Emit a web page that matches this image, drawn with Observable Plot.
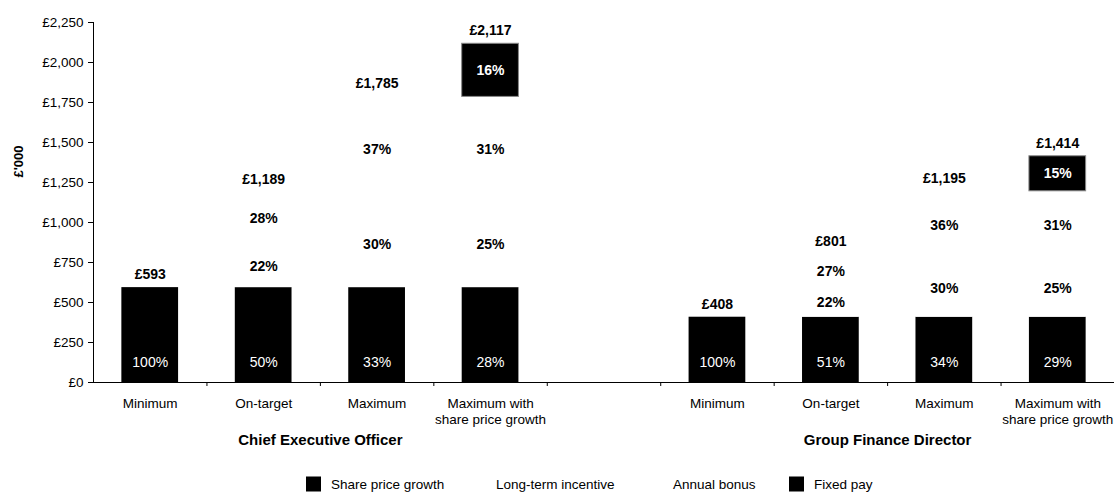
<!DOCTYPE html>
<html>
<head>
<meta charset="utf-8">
<script src="https://cdn.jsdelivr.net/npm/d3@7"></script>
<script src="https://cdn.jsdelivr.net/npm/@observablehq/plot@0.6"></script>
<style>
  html, body { margin: 0; padding: 0; background: #fff; }
  body { font-family: "Liberation Sans", Arial, sans-serif; width: 1114px; }
  #legend { position: relative; height: 33px; font-size: 13.5px; color: #000; }
  #legend .item { position: absolute; top: 24px; display: flex; align-items: center; white-space: nowrap; }
  #legend .sw { width: 15px; height: 15px; margin-right: 10px; box-sizing: border-box; }
</style>
</head>
<body>
<div id="chart"></div>
<div id="legend"></div>
<script>
// ---- data ----
const roles = ["Chief Executive Officer", "Group Finance Director"];
const categories = ["Minimum", "On-target", "Maximum", "Maximum with\nshare price growth"];
const components = ["Fixed pay", "Annual bonus", "Long-term incentive", "Share price growth"];
const componentFill = ["#000000", "#ffffff", "#ffffff", "#000000"];
const legendOrder = ["Share price growth", "Long-term incentive", "Annual bonus", "Fixed pay"];

// values in £'000, per category
const ceoFixed = [593, 593, 593, 593];
const ceoBonus = [0, 267, 535, 535];
const ceoLTI   = [0, 329, 657, 657];
const ceoSPG   = [0, 0, 0, 332];
const ceoTotals = [593, 1189, 1785, 2117];
const ceoFixedPct = ["100%", "50%", "33%", "28%"];
const ceoBonusPct = [null, "22%", "30%", "25%"];
const ceoLTIPct   = [null, "28%", "37%", "31%"];
const ceoSPGPct   = [null, null, null, "16%"];

const gfdFixed = [408, 408, 408, 408];
const gfdBonus = [0, 178, 356, 356];
const gfdLTI   = [0, 215, 431, 431];
const gfdSPG   = [0, 0, 0, 219];
const gfdTotals = [408, 801, 1195, 1414];
const gfdFixedPct = ["100%", "51%", "34%", "29%"];
const gfdBonusPct = [null, "22%", "30%", "25%"];
const gfdLTIPct   = [null, "27%", "36%", "31%"];
const gfdSPGPct   = [null, null, null, "15%"];

const yTicks = [0, 250, 500, 750, 1000, 1250, 1500, 1750, 2000, 2250];

// ---- build tables ----
const roleData = [
  {values: [ceoFixed, ceoBonus, ceoLTI, ceoSPG], pcts: [ceoFixedPct, ceoBonusPct, ceoLTIPct, ceoSPGPct], totals: ceoTotals},
  {values: [gfdFixed, gfdBonus, gfdLTI, gfdSPG], pcts: [gfdFixedPct, gfdBonusPct, gfdLTIPct, gfdSPGPct], totals: gfdTotals}
];
const slotsPerRole = categories.length + 1; // one empty slot between groups
const nSlots = roles.length * slotsPerRole - 1;

const segments = [];
const totals = [];
const catRows = [];
roleData.forEach((rd, r) => {
  categories.forEach((cat, i) => {
    const slot = r * slotsPerRole + i;
    let base = 0;
    components.forEach((comp, c) => {
      const v = rd.values[c][i];
      if (v > 0) {
        segments.push({slot, comp, ci: c, y1: base, y2: base + v, pct: rd.pcts[c][i]});
      }
      base += v;
    });
    totals.push({slot, total: rd.totals[i]});
    catRows.push({slot, cat});
  });
});
const roleRows = roles.map((role, r) => ({role, center: r * slotsPerRole + categories.length / 2}));
const boundaries = d3.range(1, nSlots + 1);
const fmt = d3.format(",");

const chart = Plot.plot({
  width: 1114,
  height: 460,
  marginLeft: 93,
  marginRight: 0,
  marginTop: 22,
  marginBottom: 78,
  x: {domain: [0, nSlots], axis: null},
  y: {domain: [0, 2250], axis: null},
  style: {fontFamily: "'Liberation Sans', Arial, sans-serif", fontSize: "13.5px", color: "#000", background: "#fff"},
  marks: [
    Plot.rect(segments, {
      x1: d => d.slot + 0.25, x2: d => d.slot + 0.75, y1: "y1", y2: "y2",
      fill: d => componentFill[d.ci],
      stroke: d => d.comp === "Share price growth" ? "#888" : "none",
      strokeWidth: 1
    }),
    Plot.axisY({ticks: yTicks, tickFormat: d => "£" + fmt(d), tickSize: 5, tickPadding: 5, label: null, fontSize: 13.5}),
    Plot.axisX({ticks: boundaries, tickFormat: () => "", tickSize: 4, label: null}),
    Plot.ruleX([0]),
    Plot.ruleY([0]),
    // percentage labels in white segments (bonus, LTI)
    Plot.text(segments.filter(d => d.pct && componentFill[d.ci] === "#ffffff"), {
      x: d => d.slot + 0.5, y: d => (d.y1 + d.y2) / 2, text: "pct",
      fill: "#000", fontWeight: "bold", fontSize: 14
    }),
    // share price growth labels
    Plot.text(segments.filter(d => d.pct && d.comp === "Share price growth"), {
      x: d => d.slot + 0.5, y: d => (d.y1 + d.y2) / 2, text: "pct",
      fill: "#fff", fontWeight: "bold", fontSize: 14
    }),
    // fixed pay labels near base
    Plot.text(segments.filter(d => d.comp === "Fixed pay"), {
      x: d => d.slot + 0.5, y: d => d.y1, text: "pct", dy: -20,
      fill: "#fff", fontSize: 14
    }),
    // totals
    Plot.text(totals, {
      x: d => d.slot + 0.5, y: "total", text: d => "£" + fmt(d.total), dy: -13,
      fill: "#000", fontWeight: "bold", fontSize: 14
    }),
    // category labels
    Plot.text(catRows, {
      x: d => d.slot + 0.5, text: "cat", frameAnchor: "bottom", lineAnchor: "top",
      dy: 14, lineHeight: 1.18, fill: "#000", fontSize: 13.5
    }),
    // role labels
    Plot.text(roleRows, {
      x: "center", text: "role", frameAnchor: "bottom", lineAnchor: "middle",
      dy: 58, fill: "#000", fontWeight: "bold", fontSize: 15
    }),
    // y title
    Plot.text(["£'000"], {
      frameAnchor: "left", dx: -75, dy: -25, rotate: -90,
      fill: "#000", fontWeight: "bold", fontSize: 13
    })
  ]
});
document.getElementById("chart").appendChild(chart);

// legend
const legendLeft = [306, 471, 648, 789];
const legend = document.getElementById("legend");
legendOrder.forEach((name, k) => {
  const c = components.indexOf(name);
  const item = document.createElement("div");
  item.className = "item";
  item.style.left = legendLeft[k] + "px";
  item.style.transform = "translateY(-50%)";
  const sw = document.createElement("span");
  sw.className = "sw";
  sw.style.background = componentFill[c];
  const tx = document.createElement("span");
  tx.textContent = name;
  item.appendChild(sw);
  item.appendChild(tx);
  legend.appendChild(item);
});
</script>
</body>
</html>
